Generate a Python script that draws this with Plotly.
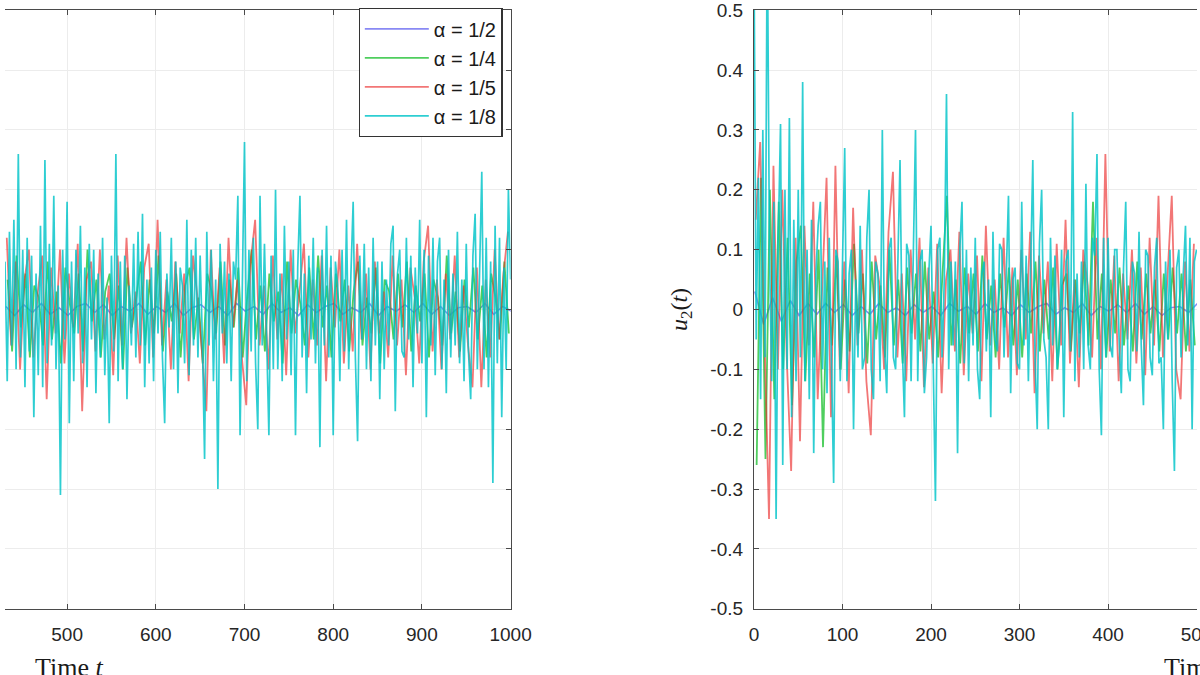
import plotly.graph_objects as go

# ---------------- data ----------------
legend_labels = ["α = 1/2", "α = 1/4", "α = 1/5", "α = 1/8"]
colors = ["rgba(40,40,235,0.55)", "rgba(20,190,40,0.75)", "rgba(235,45,45,0.65)", "rgba(0,195,200,0.82)"]

# left panel u1(t), visible window t ~ 430..1000
u1_blue_t0, u1_blue_dt = 431, 10
u1_blue = [0.005, -0.01, 0.008, -0.005, 0.01, -0.008, 0.003, -0.01, 0.005, 0.01, -0.005, 0.008, -0.01, 0.005,
           -0.003, 0.01, -0.008, 0.005, -0.005, 0.01, -0.01, 0.003, 0.008, -0.005, 0.005, -0.01, 0.01, -0.003,
           0.005, -0.008, 0.01, -0.005, 0.003, -0.01, 0.008, -0.005, 0.005, 0.01, -0.008, 0.003, -0.005, 0.01,
           -0.01, 0.005, -0.003, 0.008, -0.005, 0.01, -0.008, 0.005, -0.01, 0.003, 0.005, -0.005, 0.01, -0.008,
           0.005, -0.003]
u1_green_t0, u1_green_dt = 433, 5
u1_green = [0.05, -0.07, 0.09, -0.03, 0.06, -0.08, 0.04, 0.02, -0.06, 0.08, -0.05, 0.03, -0.09, 0.07, 0.01,
            -0.04, 0.06, -0.07, 0.10, -0.02, 0.05, -0.08, 0.03, 0.06, -0.05, 0.04, -0.10, 0.07, -0.03, 0.02,
            0.08, -0.06, 0.05, -0.04, 0.09, -0.07, 0.03, -0.02, 0.06, -0.08, 0.04, 0.07, -0.05, 0.02, -0.09,
            0.06, 0.03, -0.04, 0.08, -0.06, 0.05, -0.03, 0.07, -0.08, 0.02, 0.10, -0.05, 0.04, -0.07, 0.06,
            -0.02, 0.03, -0.09, 0.08, -0.04, 0.05, 0.01, -0.06, 0.07, -0.05, 0.09, -0.03, 0.04, -0.08, 0.06,
            -0.02, 0.05, -0.07, 0.03, 0.08, -0.06, 0.02, -0.04, 0.07, -0.09, 0.05, 0.03, -0.05, 0.06, -0.03,
            0.08, -0.07, 0.04, -0.02, 0.06, -0.08, 0.05, 0.02, -0.06, 0.09, -0.04, 0.03, -0.07, 0.05, -0.03,
            0.07, -0.05, 0.04, -0.08, 0.06, 0.02, -0.05, 0.08, -0.04]
u1_red_t0, u1_red_dt = 432, 5
u1_red = [0.12, -0.06, 0.08, -0.10, 0.05, 0.10, -0.08, 0.03, 0.09, -0.15, 0.07, -0.04, 0.10, -0.09, 0.06,
          -0.03, 0.11, -0.17, 0.05, 0.08, -0.07, 0.10, -0.05, 0.04, -0.11, 0.09, -0.06, 0.12, -0.04, 0.03,
          -0.09, 0.07, 0.11, -0.08, 0.15, -0.06, 0.05, -0.10, 0.08, -0.04, 0.06, -0.12, 0.09, 0.02, -0.07,
          -0.17, 0.10, -0.05, 0.07, -0.09, 0.12, -0.03, 0.05, -0.08, -0.16, 0.08, 0.15, -0.06, 0.04, -0.10,
          0.09, -0.05, 0.06, -0.11, 0.10, -0.04, 0.03, 0.11, -0.08, 0.05, -0.06, 0.09, -0.12, 0.07, -0.03,
          0.10, -0.09, 0.04, -0.07, 0.11, -0.05, 0.06, -0.10, 0.08, -0.04, 0.03, -0.08, 0.09, -0.06, 0.05,
          -0.11, 0.07, 0.02, -0.09, 0.08, 0.14, -0.07, 0.05, -0.10, 0.06, -0.05, 0.09, -0.08, 0.04, -0.06,
          -0.13, 0.07, -0.13, 0.05, -0.08, 0.10, -0.05, 0.06, 0.13]
u1_cyan_t0, u1_cyan_dt = 430, 2.5
u1_cyan = [0.08, -0.12, 0.13, -0.06, 0.15, -0.10, 0.26, -0.08, 0.10, -0.13,
           0.12, -0.07, 0.09, -0.18, 0.06, -0.11, 0.14, -0.13, 0.25, -0.09,
           0.11, -0.06, 0.19, -0.10, 0.04, -0.31, 0.10, -0.05, 0.18, -0.19,
           0.08, -0.12, 0.10, -0.04, 0.14, -0.09, 0.07, -0.13, 0.11, -0.05,
           0.10, -0.14, 0.06, -0.08, 0.12, -0.11, 0.02, -0.19, 0.09, -0.07,
           0.26, -0.12, 0.08, -0.10, 0.09, -0.15, 0.04, -0.06, 0.11, -0.08,
           0.13, -0.06, 0.16, -0.13, 0.05, -0.09, 0.07, -0.12, 0.10, -0.04,
           0.13, -0.08, -0.19, 0.06, -0.03, 0.12, -0.10, 0.08, -0.14, 0.07,
           0.04, -0.09, 0.15, -0.11, 0.10, -0.06, 0.12, -0.08, 0.09, -0.05,
           -0.25, 0.13, -0.06, 0.10, -0.12, 0.05, -0.30, 0.11, -0.04, 0.08,
           -0.09, 0.06, -0.12, 0.08, 0.05, 0.19, -0.21, 0.07, 0.28, -0.12,
           0.10, -0.07, 0.12, -0.09, -0.20, 0.19, -0.06, 0.11, -0.08, -0.21,
           0.09, -0.10, 0.20, -0.10, 0.06, -0.12, 0.14, -0.05, 0.08, -0.11,
           0.10, -0.21, 0.07, 0.19, -0.08, 0.06, -0.14, 0.09, -0.05, 0.12,
           -0.09, 0.07, -0.23, 0.10, -0.06, 0.14, -0.08, 0.09, -0.21, 0.08,
           0.04, -0.12, 0.10, -0.07, 0.15, -0.10, 0.06, 0.18, -0.08, -0.22,
           0.09, -0.05, 0.11, -0.10, 0.07, -0.12, 0.12, -0.06, 0.08, -0.15,
           0.08, -0.10, 0.05, -0.06, 0.11, 0.14, -0.17, 0.06, 0.10, -0.07,
           -0.08, 0.12, -0.05, 0.09, -0.13, 0.07, -0.04, 0.15, -0.09, 0.10,
           -0.18, 0.09, -0.06, 0.12, -0.11, 0.08, 0.12, -0.10, 0.05, -0.14,
           0.10, -0.08, 0.06, -0.06, 0.13, -0.09, 0.05, -0.12, 0.11, -0.07,
           -0.15, 0.09, 0.16, -0.10, 0.06, 0.23, -0.10, 0.12, -0.13, 0.08,
           -0.29, 0.14, -0.09, 0.12, -0.18, 0.07, -0.10, 0.20, 0.05]

# right panel u2(t), visible window t ~ 0..500
u2_blue_t0, u2_blue_dt = 1, 10
u2_blue = [0.03, -0.025, 0.02, -0.02, 0.015, -0.01, 0.01, -0.008, 0.01, -0.005, 0.008, -0.01, 0.005, -0.008,
           0.01, -0.005, 0.003, -0.01, 0.008, -0.005, 0.005, -0.01, 0.01, -0.003, 0.005, -0.008, 0.01, -0.005,
           0.003, -0.01, 0.008, -0.005, 0.005, 0.01, -0.008, 0.003, -0.005, 0.01, -0.01, 0.005, -0.003, 0.008,
           -0.005, 0.01, -0.008, 0.005, -0.01, 0.003, 0.005, -0.005, 0.01]
u2_green_t0, u2_green_dt = 3, 5
u2_green = [-0.26, 0.22, -0.25, 0.20, -0.15, 0.18, -0.10, 0.12, -0.16, 0.08, 0.14, -0.12, 0.06, -0.08, 0.10,
            -0.23, 0.07, -0.06, 0.09, -0.10, 0.05, -0.07, 0.11, -0.04, 0.06, -0.09, 0.08, -0.05, 0.04, -0.08,
            0.10, -0.06, 0.05, -0.09, 0.07, -0.04, 0.06, -0.07, 0.08, -0.05, 0.03, -0.08, 0.06, 0.19, -0.06,
            0.05, -0.09, 0.07, -0.04, 0.06, -0.07, 0.09, -0.05, 0.04, -0.08, 0.06, -0.03, 0.07, -0.06, 0.05,
            -0.08, 0.06, -0.04, 0.08, -0.07, 0.05, -0.05, 0.07, -0.10, 0.04, 0.06, -0.07, 0.05, -0.04, 0.08,
            -0.06, 0.18, -0.05, 0.06, -0.08, 0.05, -0.04, 0.07, -0.06, 0.04, -0.07, 0.08, -0.05, 0.06, -0.04,
            0.05, -0.07, 0.06, -0.05, 0.07, -0.04, 0.06, -0.07, 0.05, -0.06]
u2_red_t0, u2_red_dt = 2, 5
u2_red = [0.15, 0.28, -0.05, -0.35, 0.24, -0.10, 0.20, -0.08, -0.27, 0.12, -0.22, 0.14, -0.06, 0.18, -0.15,
          0.05, 0.22, -0.18, 0.24, -0.10, 0.08, -0.14, 0.17, -0.06, 0.10, -0.12, -0.21, 0.09, 0.04, -0.10,
          0.13, 0.23, -0.08, 0.06, -0.12, 0.10, -0.05, 0.12, -0.13, 0.07, -0.09, 0.11, -0.14, 0.05, 0.10,
          -0.07, 0.13, -0.11, 0.06, -0.04, 0.09, -0.12, 0.14, -0.06, 0.05, -0.10, 0.12, -0.08, 0.07, -0.11,
          0.10, -0.05, 0.13, -0.14, 0.09, -0.04, 0.08, -0.12, 0.11, -0.06, 0.15, -0.09, 0.05, -0.13, 0.10,
          0.04, -0.08, 0.12, -0.10, 0.26, -0.07, 0.09, -0.12, 0.06, -0.05, 0.10, -0.09, 0.07, -0.11, 0.12,
          -0.06, 0.19, -0.08, 0.05, 0.19, -0.10, -0.15, 0.08, -0.07, 0.11]
u2_cyan_t0, u2_cyan_dt = 0, 2.5
u2_cyan = [0.60, -0.05, 0.22, -0.15, 0.30, -0.08, 0.65, 0.10, -0.12, 0.18,
           -0.35, 0.12, 0.31, -0.26, 0.20, -0.10, 0.32, -0.18, 0.15, -0.12,
           0.20, -0.08, 0.38, -0.12, 0.10, -0.15, 0.15, -0.24, 0.06, 0.14,
           0.18, -0.10, 0.08, -0.14, 0.12, -0.06, -0.29, 0.10, 0.08, -0.12,
           0.10, 0.27, -0.12, 0.06, 0.10, -0.20, 0.05, -0.08, 0.14, -0.10,
           -0.08, 0.12, 0.20, -0.10, -0.15, 0.08, 0.06, -0.12, 0.30, -0.06,
           -0.14, 0.10, 0.12, -0.08, -0.10, 0.07, 0.25, -0.06, -0.18, 0.11,
           0.09, -0.12, 0.06, 0.30, -0.12, 0.08, 0.10, -0.14, -0.08, 0.06,
           0.14, -0.06, -0.32, 0.10, 0.12, -0.08, 0.05, 0.36, -0.10, 0.08,
           -0.06, 0.08, -0.24, 0.10, 0.18, -0.09, 0.10, -0.12, 0.07, -0.06,
           0.12, -0.10, -0.15, 0.06, 0.08, -0.07, 0.05, -0.18, 0.13, -0.05,
           -0.07, 0.11, 0.10, -0.08, 0.06, 0.19, -0.14, 0.05, 0.07, -0.09,
           -0.10, 0.18, -0.06, 0.09, -0.12, 0.06, 0.25, -0.08, -0.20, 0.11,
           0.20, -0.05, -0.08, -0.20, 0.12, -0.06, 0.09, -0.10, -0.06, 0.10,
           -0.18, 0.08, 0.10, -0.07, 0.33, -0.12, 0.06, -0.08, 0.08, -0.10,
           0.21, -0.06, -0.10, 0.12, 0.09, 0.26, -0.10, -0.21, 0.12, -0.08,
           0.12, -0.06, -0.08, 0.10, 0.10, -0.05, -0.14, 0.07, 0.18, -0.10,
           -0.12, 0.08, 0.06, -0.07, 0.13, -0.06, -0.16, 0.10, 0.09, -0.08,
           -0.11, 0.07, 0.12, -0.09, -0.08, -0.20, 0.08, -0.05, 0.10, -0.12,
           -0.27, 0.07, 0.10, -0.08, 0.06, 0.14, -0.06, 0.12, -0.20, 0.08,
           0.10]

y_ticks = [-0.5, -0.4, -0.3, -0.2, -0.1, 0, 0.1, 0.2, 0.3, 0.4, 0.5]
y_ticktext = ["-0.5", "-0.4", "-0.3", "-0.2", "-0.1", "0", "0.1", "0.2", "0.3", "0.4", "0.5"]
x_ticks = [0, 100, 200, 300, 400, 500, 600, 700, 800, 900, 1000]

left_series = [(u1_blue_t0, u1_blue_dt, u1_blue), (u1_green_t0, u1_green_dt, u1_green),
               (u1_red_t0, u1_red_dt, u1_red), (u1_cyan_t0, u1_cyan_dt, u1_cyan)]
right_series = [(u2_blue_t0, u2_blue_dt, u2_blue), (u2_green_t0, u2_green_dt, u2_green),
                (u2_red_t0, u2_red_dt, u2_red), (u2_cyan_t0, u2_cyan_dt, u2_cyan)]
line_widths = [1.6, 1.8, 1.8, 1.7]


def times(t0, dt, vals):
    return [t0 + dt * i for i in range(len(vals))]


fig = go.Figure()
for i, (t0, dt, vals) in enumerate(left_series):
    fig.add_trace(go.Scatter(x=times(t0, dt, vals), y=vals, mode="lines", name=legend_labels[i],
                             legendgroup="g%d" % i,
                             line=dict(color=colors[i], width=line_widths[i]), xaxis="x", yaxis="y"))
for i, (t0, dt, vals) in enumerate(right_series):
    fig.add_trace(go.Scatter(x=times(t0, dt, vals), y=vals, mode="lines", name=legend_labels[i],
                             legendgroup="g%d" % i, showlegend=False,
                             line=dict(color=colors[i], width=line_widths[i]), xaxis="x2", yaxis="y2"))

W0, H = 1200, 675          # target picture size
W = 1218                   # page width (rendered picture comes out slightly narrower)
mt, mb = 10, 66
ph = H - mt - mb
tickfont = dict(family="Liberation Sans, Arial, sans-serif", size=19, color="#262626")
axcol = "#4a4a4a"
gridcol = "#ececec"

common_x = dict(tickvals=x_ticks, ticks="inside", ticklen=5, tickcolor=axcol, showline=True,
                linecolor=axcol, linewidth=1.2, mirror="ticks", showgrid=True, gridcolor=gridcol,
                gridwidth=1, zeroline=False, tickfont=tickfont, ticklabelstandoff=8,
                ticklabeloverflow="allow")
yrange = [-0.5005, 0.5005]

fig.update_layout(
    width=W, height=H,
    margin=dict(l=0, r=0, t=mt, b=mb),
    paper_bgcolor="white", plot_bgcolor="white",
    xaxis=dict(domain=[0, 509 / W0], range=[430, 1000], anchor="y", **common_x),
    yaxis=dict(domain=[0, 1], range=yrange, anchor="x", side="right", tickvals=y_ticks,
               showticklabels=False, ticks="inside", ticklen=5, tickcolor=axcol, showline=True,
               linecolor=axcol, linewidth=1.2, mirror=False, showgrid=True, gridcolor=gridcol,
               zeroline=False),
    xaxis2=dict(domain=[754 / W0, 1.0], range=[0, 500.5], anchor="y2", **common_x),
    yaxis2=dict(domain=[0, 1], range=yrange, anchor="x2", side="left", tickvals=y_ticks,
                ticktext=y_ticktext, ticks="inside", ticklen=5, tickcolor=axcol, showline=True,
                linecolor=axcol, linewidth=1.2, mirror=False, showgrid=True, gridcolor=gridcol,
                zeroline=False, tickfont=tickfont, ticklabelstandoff=6, ticklabeloverflow="allow"),
    legend=dict(x=356 / W0, y=1.003, xanchor="left", yanchor="top",
                bgcolor="white", bordercolor="#333333", borderwidth=1.2,
                font=dict(family="Liberation Sans, Arial, sans-serif", size=20, color="#1a1a1a"),
                itemwidth=64, tracegroupgap=0),
    showlegend=True,
)

label_font = dict(family="Liberation Serif, Times New Roman, serif", size=26, color="#1a1a1a")
fig.add_annotation(text="Time <i>t</i>", xref="paper", yref="paper", x=64 / W0, y=-(667 - (H - mb)) / ph,
                   xanchor="center", yanchor="middle", showarrow=False, font=label_font)
fig.add_annotation(text="Time <i>t</i>", xref="paper", yref="paper", x=1201 / W0, y=-(667 - (H - mb)) / ph,
                   xanchor="center", yanchor="middle", showarrow=False, font=label_font)
fig.add_annotation(text="<i>u</i><sub>2</sub>(<i>t</i>)", xref="paper", yref="paper", x=680 / W0, y=0.5,
                   xanchor="center", yanchor="middle", textangle=-90, showarrow=False,
                   font=dict(family="Liberation Serif, Times New Roman, serif", size=24, color="#1a1a1a"))

fig.write_html("out.html", config={"displayModeBar": False},
               post_script="document.body.style.margin='0px';document.body.style.overflow='hidden';"
                           "document.documentElement.style.overflow='hidden';")
